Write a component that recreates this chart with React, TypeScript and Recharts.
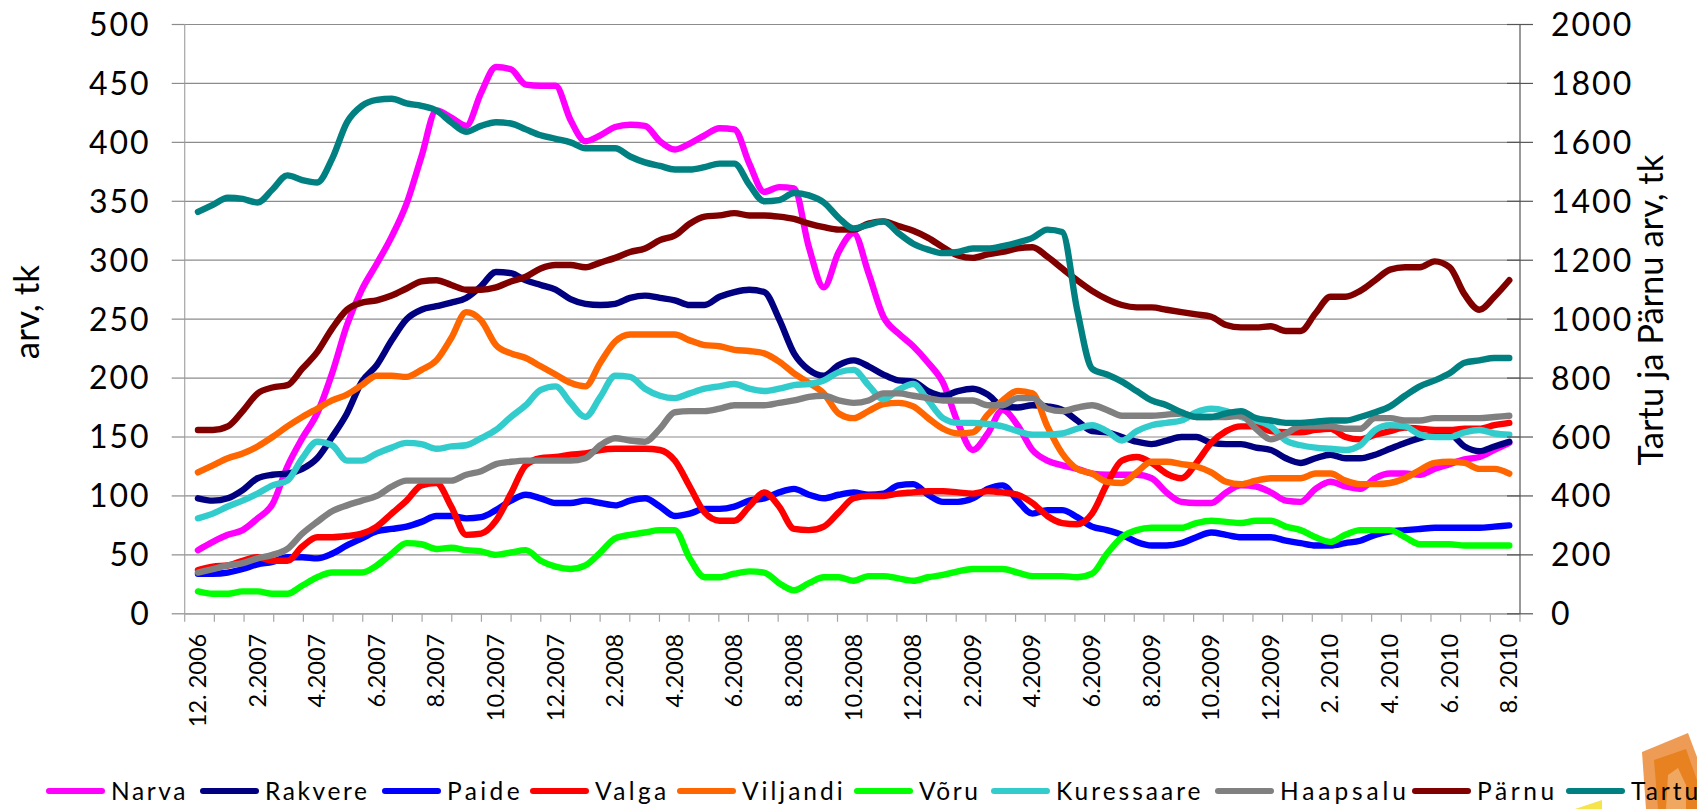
import { LineChart, Line, XAxis, YAxis, CartesianGrid, Legend } from "recharts";

// half-month steps, Dec 2006 .. Aug 2010
const narva = [
  54, 61, 67, 71, 81, 93, 125, 149, 170, 204,
  245, 275, 297, 320, 348, 388, 427, 421, 414, 442,
  464, 462, 449, 448, 448, 419, 401, 406, 413, 415,
  414, 401, 394, 399, 406, 412, 411, 382, 358, 362,
  361, 311, 277, 307, 323, 289, 252, 238, 227, 213,
  196, 162, 139, 153, 173, 160, 139, 130, 126, 123,
  119, 118, 118, 118, 115, 103, 95, 94, 94, 103,
  109, 108, 103, 96, 95, 106, 112, 108, 106, 115,
  119, 119, 118, 123, 127, 131, 133, 139, 145,
];
const rakvere = [
  98, 96, 98, 105, 115, 118, 119, 123, 132, 150,
  170, 197, 211, 232, 250, 258, 261, 264, 268, 278,
  290, 289, 283, 279, 275, 267, 263, 262, 263, 268,
  270, 268, 266, 262, 262, 269, 273, 275, 273, 250,
  221, 207, 202, 211, 215, 210, 203, 198, 197, 189,
  185, 189, 191, 186, 176, 175, 177, 176, 173, 164,
  155, 154, 150, 146, 144, 147, 150, 150, 145, 144,
  144, 141, 139, 132, 128, 132, 135, 132, 132, 135,
  140, 145, 149, 152, 152, 142, 138, 142, 146,
];
const paide = [
  34, 34, 35, 38, 42, 44, 48, 48, 47, 51,
  58, 64, 70, 72, 74, 78, 83, 83, 81, 82,
  88, 96, 101, 98, 94, 94, 96, 94, 92, 96,
  98, 91, 83, 85, 89, 89, 91, 96, 98, 103,
  106, 101, 98, 101, 103, 101, 102, 109, 110, 101,
  95, 95, 98, 106, 109, 96, 85, 88, 88, 82,
  74, 71, 67, 61, 58, 58, 60, 65, 69, 67,
  65, 65, 65, 62, 60, 58, 58, 60, 62, 67,
  70, 71, 72, 73, 73, 73, 73, 74, 75,
];
const valga = [
  37, 40, 41, 45, 48, 45, 45, 57, 65, 65,
  66, 68, 74, 85, 96, 109, 111, 91, 67, 68,
  79, 102, 126, 132, 133, 135, 136, 139, 140, 140,
  140, 139, 130, 108, 86, 79, 79, 91, 103, 91,
  72, 71, 74, 86, 98, 100, 100, 102, 103, 104,
  104, 103, 102, 104, 103, 101, 94, 83, 77, 76,
  85, 110, 130, 133, 128, 119, 115, 128, 145, 155,
  159, 159, 155, 154, 154, 156, 157, 150, 148, 152,
  155, 158, 157, 156, 156, 157, 157, 160, 162,
];
const viljandi = [
  120, 126, 132, 136, 142, 150, 159, 167, 174, 181,
  186, 194, 202, 202, 201, 207, 215, 234, 256, 249,
  228, 221, 217, 210, 203, 196, 193, 213, 231, 237,
  237, 237, 237, 232, 228, 227, 224, 223, 221, 214,
  204, 196, 187, 170, 166, 172, 178, 179, 176, 166,
  157, 153, 154, 169, 181, 189, 187, 159, 136, 123,
  119, 112, 111, 120, 129, 129, 127, 125, 120, 112,
  110, 113, 115, 115, 115, 119, 119, 113, 110, 110,
  111, 115, 122, 128, 129, 128, 123, 123, 119,
];
const voru = [
  19, 17, 17, 19, 19, 17, 17, 24, 31, 35,
  35, 35, 41, 51, 60, 59, 55, 56, 54, 53,
  50, 52, 54, 45, 40, 38, 41, 52, 64, 67,
  69, 71, 71, 47, 31, 31, 34, 36, 35, 26,
  20, 26, 31, 31, 28, 32, 32, 30, 28, 31,
  33, 36, 38, 38, 38, 35, 32, 32, 32, 31,
  34, 51, 65, 71, 73, 73, 73, 77, 79, 78,
  77, 79, 79, 74, 71, 65, 61, 67, 71, 71,
  71, 65, 59, 59, 59, 58, 58, 58, 58,
];
const kuressaare = [
  81, 85, 91, 96, 102, 109, 113, 132, 146, 143,
  130, 130, 136, 141, 145, 144, 140, 142, 143, 149,
  156, 167, 177, 190, 193, 179, 167, 184, 202, 201,
  191, 185, 183, 187, 191, 193, 195, 191, 189, 191,
  194, 195, 198, 205, 207, 194, 182, 190, 195, 181,
  166, 162, 162, 161, 159, 155, 152, 152, 153, 157,
  160, 155, 147, 155, 160, 162, 164, 171, 174, 172,
  167, 164, 159, 147, 143, 141, 140, 139, 143, 156,
  160, 159, 152, 150, 150, 154, 156, 153, 152,
];
const haapsalu = [
  35, 38, 41, 43, 47, 50, 55, 68, 78, 87,
  92, 96, 100, 108, 113, 113, 113, 113, 118, 121,
  127, 129, 130, 130, 130, 130, 132, 143, 149, 147,
  146, 157, 171, 172, 172, 174, 177, 177, 177, 179,
  181, 184, 185, 181, 179, 181, 187, 187, 185, 183,
  181, 181, 181, 177, 177, 183, 183, 174, 172, 175,
  177, 173, 168, 168, 168, 169, 170, 167, 167, 167,
  168, 157, 148, 153, 159, 159, 159, 157, 157, 166,
  166, 164, 164, 166, 166, 166, 166, 167, 168,
];
// right axis
const parnu = [
  624, 624, 636, 688, 748, 768, 776, 832, 888, 968,
  1032, 1056, 1064, 1080, 1104, 1128, 1132, 1116, 1100, 1100,
  1108, 1128, 1144, 1172, 1184, 1184, 1176, 1192, 1208, 1228,
  1240, 1268, 1284, 1324, 1348, 1352, 1360, 1352, 1352, 1348,
  1340, 1324, 1312, 1304, 1304, 1324, 1332, 1316, 1300, 1276,
  1244, 1216, 1208, 1220, 1228, 1240, 1244, 1212, 1172, 1132,
  1096, 1068, 1048, 1040, 1040, 1032, 1024, 1016, 1008, 980,
  972, 972, 976, 960, 960, 1020, 1076, 1076, 1096, 1132,
  1168, 1176, 1176, 1196, 1176, 1084, 1032, 1076, 1132,
];
const tartu = [
  1364, 1388, 1412, 1408, 1396, 1440, 1488, 1472, 1464, 1544,
  1668, 1724, 1744, 1748, 1732, 1724, 1708, 1668, 1636, 1656,
  1668, 1664, 1644, 1624, 1612, 1600, 1580, 1580, 1580, 1552,
  1532, 1520, 1508, 1508, 1516, 1528, 1528, 1456, 1400, 1404,
  1428, 1420, 1396, 1344, 1308, 1320, 1332, 1292, 1256, 1236,
  1224, 1228, 1240, 1240, 1248, 1260, 1276, 1304, 1296, 1032,
  832, 812, 788, 756, 724, 708, 684, 668, 668, 680,
  688, 664, 656, 648, 648, 652, 656, 656, 668, 684,
  704, 740, 772, 792, 816, 852, 860, 868, 868,
];

const monthLabels = [
  "12. 2006", "2.2007", "4.2007", "6.2007", "8.2007", "10.2007", "12.2007", "2.2008",
  "4.2008", "6.2008", "8.2008", "10.2008", "12.2008", "2.2009", "4.2009", "6.2009",
  "8.2009", "10.2009", "12.2009", "2. 2010", "4. 2010", "6. 2010", "8. 2010",
];
const leftTicks = [0, 50, 100, 150, 200, 250, 300, 350, 400, 450, 500];
const rightTicks = [0, 200, 400, 600, 800, 1000, 1200, 1400, 1600, 1800, 2000];

const series = [
  { name: "Narva", values: narva, color: "#ff00ff", axis: "left" },
  { name: "Rakvere", values: rakvere, color: "#000080", axis: "left" },
  { name: "Paide", values: paide, color: "#0000ff", axis: "left" },
  { name: "Valga", values: valga, color: "#ff0000", axis: "left" },
  { name: "Viljandi", values: viljandi, color: "#ff6600", axis: "left" },
  { name: "Võru", values: voru, color: "#00ff00", axis: "left" },
  { name: "Kuressaare", values: kuressaare, color: "#33cccc", axis: "left" },
  { name: "Haapsalu", values: haapsalu, color: "#808080", axis: "left" },
  { name: "Pärnu", values: parnu, color: "#800000", axis: "right" },
  { name: "Tartu", values: tartu, color: "#008080", axis: "right" },
];

const chartData = narva.map((_, i) => {
  const row: any = { step: i };
  series.forEach((s) => (row[s.name] = s.values[i]));
  return row;
});

const FONT = "Lato, sans-serif";
const X_MIN = -0.89;
const X_MAX = 88.72;
const TICK_STEP = (X_MAX - X_MIN) / 45;
const tickMarks = Array.from({ length: 46 }, (_, k) => X_MIN + k * TICK_STEP);
const labelSteps = monthLabels.map((_, k) => k * 4);

// the reference legend is unevenly spaced
const legendWidths = [154, 182, 148, 147, 177, 137, 224, 197, 154, 140];
const legendSpacing = [2.6, 2.6, 3.4, 3.4, 3, 2.6, 3, 3.9, 3.6, 3];

const MonthTick = ({ x, y, payload }: any) => {
  const k = labelSteps.indexOf(payload.value);
  if (k < 0) return <line x1={x} x2={x} y1={y} y2={y + 8} stroke="#a6a6a6" strokeWidth={1.2} />;
  return (
    <text
      transform={`translate(${x + 8},${y + 20}) rotate(-90)`}
      textAnchor="end"
      fontFamily={FONT}
      fontSize={23.5}
      fill="#000"
    >
      {monthLabels[k]}
    </text>
  );
};

const RightTick = ({ x, y, payload }: any) => (
  <g>
    <line x1={x - 13} x2={x + 13} y1={y} y2={y} stroke="#555" strokeWidth={1.2} />
    <text x={x + 31} y={y} dy="0.36em" fontFamily={FONT} fontSize={32} letterSpacing={2} fill="#000">
      {payload.value}
    </text>
  </g>
);

const LegendRow = () => (
  <div style={{ display: "flex", whiteSpace: "nowrap", fontFamily: FONT, fontSize: 24.5, color: "#000" }}>
    {series.map((s, i) => (
      <span
        key={s.name}
        style={{ display: "flex", alignItems: "center", flex: "none", width: legendWidths[i], letterSpacing: legendSpacing[i] }}
      >
        <span style={{ flex: "none", width: 59, height: 6, borderRadius: 3, background: s.color, marginRight: 6 }} />
        {s.name}
      </span>
    ))}
  </div>
);

export default function App() {
  return (
    <div style={{ position: "absolute", left: 0, top: 0, width: 1697, height: 809, overflow: "hidden", background: "#fff" }}>
      <svg width={147} height={109} style={{ position: "absolute", left: 1550, top: 700 }}>
        <polygon points="92,52 138,33 147,57 147,109 96,109" fill="#ee9c55" />
        <polygon points="104,60 136,49 147,80 147,109 108,109" fill="#e8811f" />
        <polygon points="116,109 118,75 128,68 136,85 136,109" fill="#f0a860" />
        <polygon points="25,109 52,100 52,109" fill="#f5e44a" />
      </svg>
      <div style={{ position: "absolute", left: 0, top: 0 }}>
        <LineChart
          width={1697}
          height={809}
          data={chartData}
          margin={{ top: 24.5, right: 0, bottom: 0, left: 0 }}
        >
          <CartesianGrid yAxisId="left" vertical={false} stroke="#8c8c8c" strokeWidth={1.2} />
          <XAxis
            dataKey="step"
            type="number"
            domain={[X_MIN, X_MAX]}
            allowDataOverflow
            ticks={[...tickMarks, ...labelSteps]}
            interval={0}
            height={166.2}
            tickLine={false}
            tickSize={0}
            tickMargin={0}
            tick={<MonthTick />}
            axisLine={{ stroke: "#a6a6a6", strokeWidth: 1.2 }}
          />
          <YAxis
            yAxisId="left"
            width={184.7}
            domain={[0, 500]}
            ticks={leftTicks}
            interval={0}
            tickSize={13}
            tickMargin={21}
            tickLine={{ stroke: "#8c8c8c", strokeWidth: 1.2 }}
            axisLine={{ stroke: "#a6a6a6", strokeWidth: 1.2 }}
            tick={{ fontFamily: FONT, fontSize: 32, letterSpacing: 2, fill: "#000" }}
            label={{
              value: "arv, tk",
              angle: -90,
              position: "insideLeft",
              offset: 27,
              dy: 40,
              style: { fontFamily: FONT, fontSize: 35, fill: "#000" },
            }}
          />
          <YAxis
            yAxisId="right"
            orientation="right"
            width={177}
            domain={[0, 2000]}
            ticks={rightTicks}
            interval={0}
            tickLine={false}
            tickSize={0}
            tickMargin={0}
            tick={<RightTick />}
            axisLine={{ stroke: "#555", strokeWidth: 1.2 }}
            label={{
              value: "Tartu ja Pärnu arv, tk",
              angle: -90,
              position: "insideRight",
              offset: 46,
              dy: -9,
              style: { textAnchor: "middle", fontFamily: FONT, fontSize: 34.5, fill: "#000" },
            }}
          />
          <Legend
            content={<LegendRow />}
            wrapperStyle={{ position: "absolute", left: 46, top: 776, width: "auto", bottom: "auto" }}
          />
          {series.map((s) => (
            <Line
              key={s.name}
              yAxisId={s.axis}
              dataKey={s.name}
              type="monotone"
              stroke={s.color}
              strokeWidth={6.4}
              strokeLinejoin="round"
              strokeLinecap="round"
              dot={false}
              activeDot={false}
              isAnimationActive={false}
            />
          ))}
        </LineChart>
      </div>
    </div>
  );
}
